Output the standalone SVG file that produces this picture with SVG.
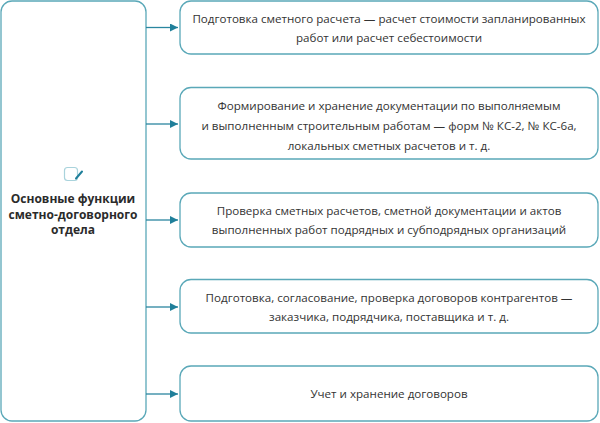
<svg xmlns="http://www.w3.org/2000/svg" width="600" height="423" viewBox="0 0 600 423">
<defs>
<style>
.box{fill:#fff;stroke:#5aa8b8;stroke-width:1.3}
.t{font-family:"Open Sans","Noto Sans",sans-serif;font-size:11.6px;fill:#333;text-anchor:middle}
.b{font-family:"Open Sans","Noto Sans",sans-serif;font-size:12px;font-weight:bold;fill:#2b2b2b;text-anchor:middle}
.c{stroke:#2a86a0;stroke-width:1.3;fill:none}
</style>
<marker id="ah" viewBox="0 0 10 10" refX="10" refY="5" markerWidth="8" markerHeight="8" markerUnits="userSpaceOnUse" orient="auto">
<path d="M0,0 L10,5 L0,10 z" fill="#1f7f9a"/>
</marker>
</defs>
<rect width="600" height="423" fill="#fff"/>
<g id="main">
<rect class="box" x="1" y="1" width="145" height="420" rx="11"/>
<rect x="64.5" y="167.5" width="13" height="13" rx="3" fill="none" stroke="#a9d3dc" stroke-width="1.2"/>
<path d="M76,178.5 L82,171.5" stroke="#1f7f9a" stroke-width="2" stroke-linecap="round"/>
<text class="b" x="73" y="203">Основные функции</text>
<text class="b" x="73" y="218.5">сметно-договорного</text>
<text class="b" x="73" y="234">отдела</text>
</g>
<g id="connectors">
<line class="c" x1="146" y1="27.5" x2="178" y2="27.5" marker-end="url(#ah)"/>
<line class="c" x1="146" y1="124" x2="178" y2="124" marker-end="url(#ah)"/>
<line class="c" x1="146" y1="220" x2="178" y2="220" marker-end="url(#ah)"/>
<line class="c" x1="146" y1="307" x2="178" y2="307" marker-end="url(#ah)"/>
<line class="c" x1="146" y1="394" x2="178" y2="394" marker-end="url(#ah)"/>
</g>
<g id="n1">
<rect class="box" x="180" y="1" width="418" height="53" rx="11"/>
<text class="t" x="389" y="23">Подготовка сметного расчета — расчет стоимости запланированных</text>
<text class="t" x="389" y="42">работ или расчет себестоимости</text>
</g>
<g id="n2">
<rect class="box" x="180" y="87.5" width="418" height="71.5" rx="11"/>
<text class="t" x="389" y="110">Формирование и хранение документации по выполняемым</text>
<text class="t" x="389" y="130">и выполненным строительным работам — форм № КС-2, № КС-6а,</text>
<text class="t" x="389" y="150">локальных сметных расчетов и т. д.</text>
</g>
<g id="n3">
<rect class="box" x="180" y="193" width="418" height="54" rx="11"/>
<text class="t" x="389" y="215">Проверка сметных расчетов, сметной документации и актов</text>
<text class="t" x="389" y="234">выполненных работ подрядных и субподрядных организаций</text>
</g>
<g id="n4">
<rect class="box" x="180" y="279.5" width="418" height="53.5" rx="11"/>
<text class="t" x="389" y="302">Подготовка, согласование, проверка договоров контрагентов —</text>
<text class="t" x="389" y="321">заказчика, подрядчика, поставщика и т. д.</text>
</g>
<g id="n5">
<rect class="box" x="180" y="366" width="418" height="55" rx="11"/>
<text class="t" x="389" y="398">Учет и хранение договоров</text>
</g>
</svg>
